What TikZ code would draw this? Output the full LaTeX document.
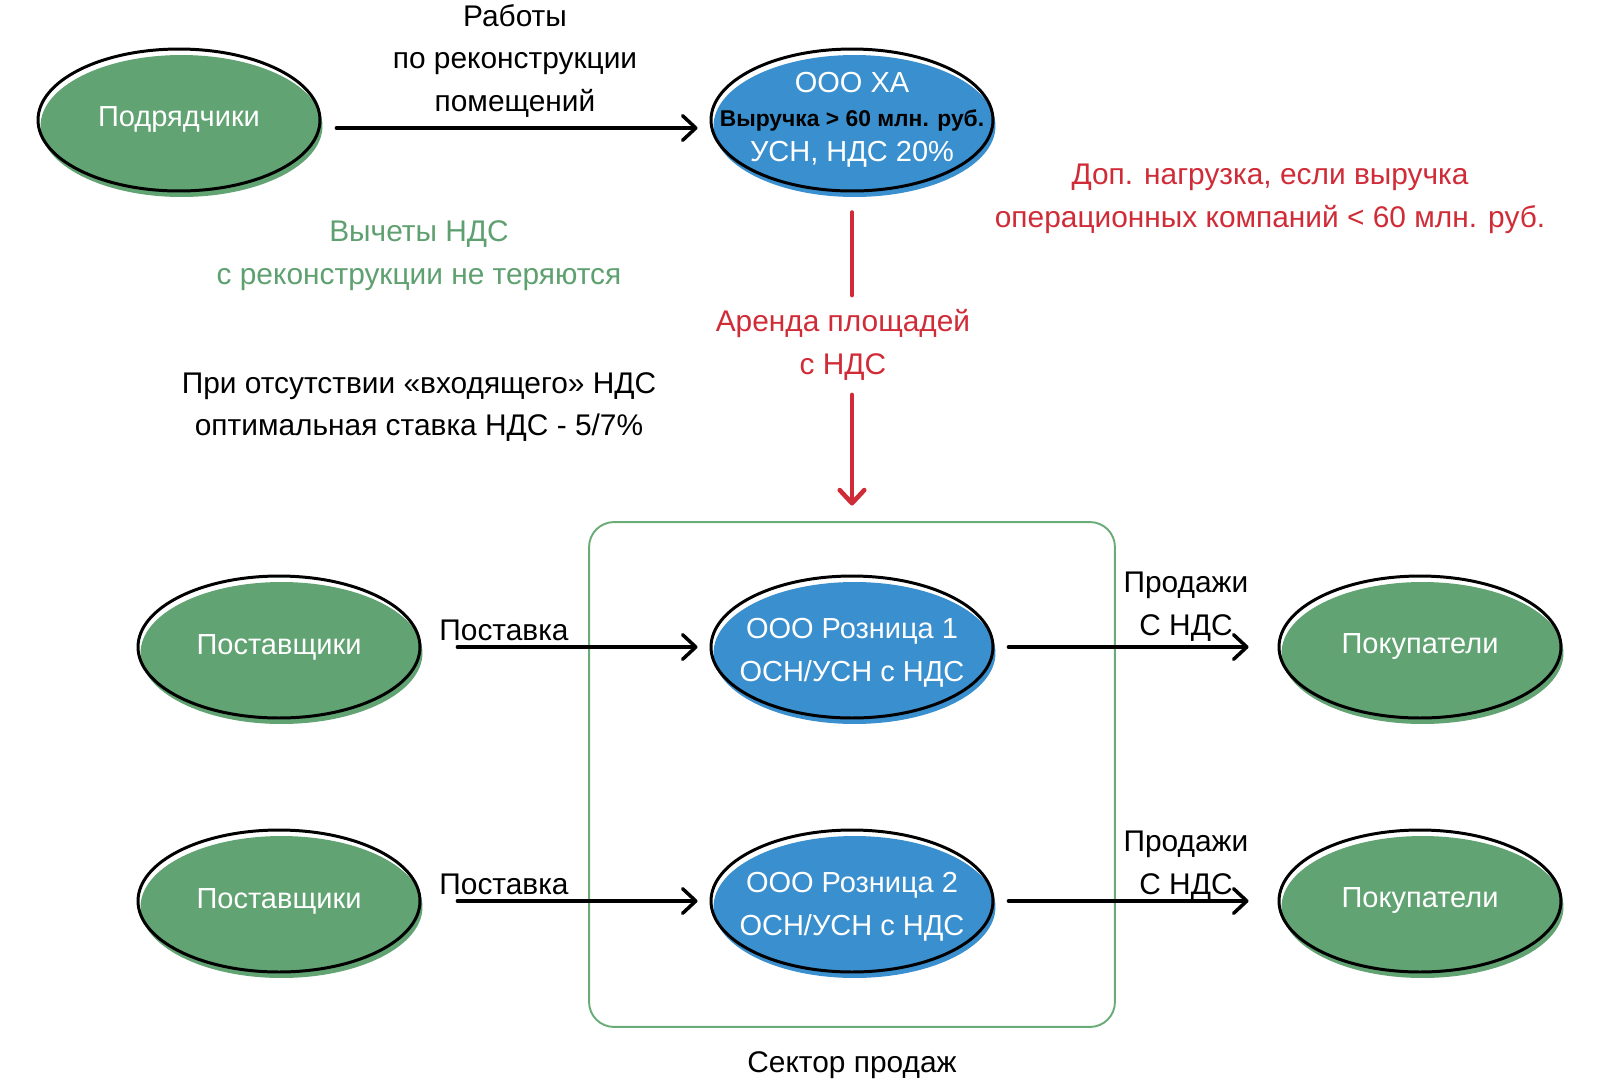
\documentclass[tikz,border=0pt]{standalone}
\usepackage{fontspec}
\setmainfont{Liberation Sans}
\usetikzlibrary{shapes.geometric,arrows.meta}
\definecolor{ngreen}{RGB}{97,163,114}
\definecolor{nblue}{RGB}{58,143,206}
\definecolor{nred}{RGB}{208,44,56}
\definecolor{tgreen}{RGB}{95,160,112}
\definecolor{rgreen}{RGB}{106,172,120}
\tikzset{
  oval/.style={ellipse, draw=black, line width=1.7pt, minimum width=5.64cm, minimum height=2.84cm,
    inner sep=0pt, text=white, font=\fontsize{16.5}{24}\selectfont},
  greenoval/.style={oval, preaction={fill=ngreen, transform canvas={shift={(0.05cm,-0.12cm)}}}},
  blueoval/.style={oval, preaction={fill=nblue, transform canvas={shift={(0.05cm,-0.12cm)}}}},
  lbl/.style={font=\fontsize{17}{24.4}\selectfont, align=center, inner sep=0pt},
  wtxt/.style={font=\fontsize{16.5}{24.4}\selectfont, text=white, inner sep=0pt},
  btxt/.style={font=\fontsize{13}{16}\selectfont\bfseries, text=black, inner sep=0pt},
  arr/.style={line width=2pt, line cap=round,
    -{Straight Barb[length=7.5pt,width=14pt,line cap=round,line join=round]}},
  redline/.style={line width=2.6pt, draw=nred, line cap=round},
  redarr/.style={redline, -{Straight Barb[length=7.5pt,width=14pt,line cap=round,line join=round]}},
  sectorbox/.style={draw=rgreen, line width=1.1pt, rounded corners=0.5cm, minimum width=10.52cm,
    minimum height=10.1cm, inner sep=0pt}
}
\begin{document}
\begin{tikzpicture}[x=0.02cm, y=-0.02cm]
\useasboundingbox (0,0) rectangle (1600,1086);

% sector box
\node[sectorbox] (sector) at (852,774.5) {};
\node[lbl] (sectorlbl) at (852,1065) {Сектор продаж};

% top row
\node[greenoval] (podr) at (179,120) {Подрядчики};
\node[blueoval] (xa) at (852,120) {};
\node[wtxt] (xa1) at (852,83) {ООО ХА};
\node[btxt] (xa2) at (852,120) {Выручка > 60 млн. руб.};
\node[wtxt] (xa3) at (852,154) {УСН, НДС 20\%};

% row 1
\node[greenoval] (post1) at (279,647) {Поставщики};
\node[blueoval] (r1) at (852,647) {};
\node[wtxt, align=center] (r1t) at (852,653) {ООО Розница 1\\ОСН/УСН с НДС};
\node[greenoval] (pok1) at (1420,647) {Покупатели};

% row 2
\node[greenoval] (post2) at (279,901) {Поставщики};
\node[blueoval] (r2) at (852,901) {};
\node[wtxt, align=center] (r2t) at (852,907) {ООО Розница 2\\ОСН/УСН с НДС};
\node[greenoval] (pok2) at (1420,901) {Покупатели};

% labels
\node[lbl] (rab) at (515,61) {Работы\\по реконструкции\\помещений};
\node[lbl, text=tgreen] (vych) at (419,256) {Вычеты НДС\\с реконструкции не теряются};
\node[lbl] (pri) at (419,407) {При отсутствии «входящего» НДС\\оптимальная ставка НДС - 5/7\%};
\node[lbl, text=nred] (dop) at (1270,199) {Доп. нагрузка, если выручка\\операционных компаний < 60 млн. руб.};
\node[lbl, text=nred, minimum height=1.98cm] (arenda) at (843,345) {Аренда площадей\\с НДС};
\node[lbl] (pst1) at (504,630) {Поставка};
\node[lbl] (pst2) at (504,884) {Поставка};
\node[lbl] (prod1) at (1186,607) {Продажи\\С НДС};
\node[lbl] (prod2) at (1186,866) {Продажи\\С НДС};

% connectors
\draw[arr, shorten <=0.3cm, shorten >=0.24cm] ([yshift=-0.16cm]podr.east) -- ([yshift=-0.16cm]xa.west);
\draw[redline, shorten <=0.4cm] (xa.south) -- (xa.south |- arenda.north);
\draw[redarr, shorten >=1.38cm] (xa.south |- arenda.south) -- (r1.north);

\draw[arr, shorten <=0.72cm, shorten >=0.24cm] (post1.east) -- (r1.west);
\draw[arr, shorten <=0.28cm, shorten >=0.58cm] (r1.east) -- (pok1.west);
\draw[arr, shorten <=0.72cm, shorten >=0.24cm] (post2.east) -- (r2.west);
\draw[arr, shorten <=0.28cm, shorten >=0.58cm] (r2.east) -- (pok2.west);
\end{tikzpicture}
\end{document}
